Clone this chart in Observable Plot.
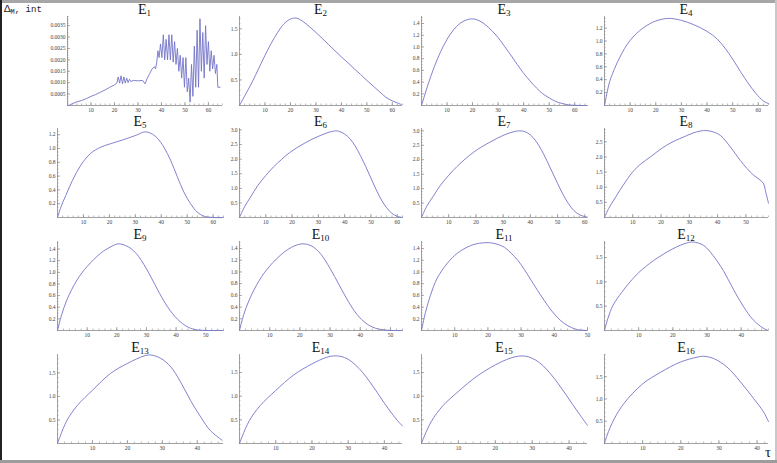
<!DOCTYPE html>
<html><head><meta charset="utf-8">
<script src="https://cdn.jsdelivr.net/npm/d3@7"></script>
<script src="https://cdn.jsdelivr.net/npm/@observablehq/plot@0.6"></script>
<style>
body{margin:0;background:#fff}
#root{position:relative;width:777px;height:463px;overflow:hidden;background:#fff}
#root svg{position:absolute;overflow:visible;background:transparent}
.title{position:absolute;font-family:"Liberation Serif",serif;font-size:14px;line-height:1;transform:translate(-50%,-50%);color:#111;white-space:nowrap}
.title sub{font-size:9px;vertical-align:-2px;line-height:0}
.ylab{position:absolute;left:4px;top:3px;font-family:"Liberation Mono",monospace;font-size:9px;color:#222;white-space:nowrap}
.ylab .d{font-size:11px}
.ylab sub{font-size:7px;vertical-align:-2px}
.tau{position:absolute;left:765px;top:444px;font-family:"Liberation Serif",serif;font-size:15px;color:#222}
.band{position:absolute}
</style></head><body><div id="root"></div>
<script>
// ---- data (tau, Delta_M,int) ----
const e1 = [[0,0],[1,0.00002],[2,0.00008],[4,0.00016],[6,0.00022],[8,0.0003],[10,0.0004],[12,0.00048],[14,0.00058],[16,0.00068],[18,0.0008],[20,0.0009],[21,0.00098],[21.6,0.00125],[22.2,0.00098],[22.8,0.0013],[23.4,0.00095],[24,0.00125],[24.6,0.00098],[25.2,0.0012],[25.8,0.001],[26.4,0.00115],[27,0.00105],[28,0.0011],[30,0.00108],[32,0.0011],[33,0.00095],[34,0.0012],[35,0.0014],[36,0.0016],[37,0.0017],[37.5,0.0016],[38,0.0019],[38.5,0.0024],[39,0.0021],[39.6,0.0027],[40.2,0.0021],[40.8,0.0031],[41.4,0.002],[42,0.0029],[42.6,0.002],[43.2,0.0031],[43.8,0.002],[44.4,0.0031],[45,0.0019],[45.6,0.0028],[46.2,0.0018],[46.8,0.0025],[47.4,0.0015],[48,0.0022],[48.6,0.0012],[49.2,0.0021],[49.8,0.0008],[50.4,0.0021],[51,0.0006],[51.6,0.0012],[52.2,0.00015],[52.8,0.0018],[53.4,0.0004],[54,0.0026],[54.6,0.0008],[55.2,0.0033],[55.8,0.0008],[56.4,0.0038],[57,0.0015],[57.6,0.0032],[58.2,0.0012],[58.8,0.0035],[59.4,0.0018],[60,0.0028],[60.6,0.0015],[61.2,0.0024],[61.8,0.0016],[62.4,0.0022],[63,0.0014],[63.6,0.0018],[64,0.0008],[65,0.0008]];
const e2 = [[0,0],[2.5,0.23],[5,0.46],[7.5,0.72],[10,0.98],[12.5,1.22],[15,1.43],[17.5,1.6],[20,1.69],[21.5,1.71],[23,1.7],[25,1.64],[27.5,1.54],[30,1.43],[32.5,1.31],[35,1.19],[37.5,1.07],[40,0.95],[42.5,0.84],[45,0.72],[47.5,0.61],[50,0.49],[52.5,0.38],[55,0.27],[57.5,0.16],[60,0.09],[62,0.05],[63.5,0.02]];
const e3 = [[0,0],[2.5,0.35],[5,0.66],[7.5,0.92],[10,1.13],[12.5,1.29],[15,1.4],[17.5,1.46],[20,1.48],[22.5,1.45],[25,1.38],[27.5,1.28],[30,1.16],[32.5,1.01],[35,0.86],[37.5,0.7],[40,0.55],[42.5,0.42],[45,0.3],[47.5,0.2],[50,0.13],[52.5,0.07],[55,0.035],[57.5,0.012],[60,0.003],[62.5,0],[65,0]];
const e4 = [[0,0],[1,0.2],[2,0.37],[3.2,0.5],[6,0.75],[10,1.01],[15,1.2],[20,1.31],[25,1.35],[30,1.32],[35,1.25],[40,1.15],[44,1.03],[47,0.89],[50,0.72],[53,0.53],[56,0.35],[59,0.19],[62,0.07],[64,0.03]];
const e5 = [[0,0],[1.3,0.15],[3.2,0.32],[5.8,0.54],[9,0.76],[12.8,0.93],[16.7,1.02],[20.5,1.07],[25.6,1.13],[30.8,1.2],[33.5,1.24],[36,1.22],[38.5,1.15],[41,1.02],[43.6,0.83],[46.2,0.59],[48.7,0.37],[51.3,0.2],[53.8,0.08],[56.4,0.02],[60,0],[64,0]];
const e6 = [[0,0],[2,0.38],[4.2,0.7],[7,1.1],[10,1.44],[13,1.74],[16,1.99],[19,2.22],[22,2.4],[25,2.56],[28,2.7],[31,2.82],[34,2.92],[36.5,2.97],[38,2.95],[40,2.86],[42,2.7],[44,2.45],[46,2.12],[48,1.75],[50,1.35],[52,0.95],[54,0.6],[56,0.33],[58,0.14],[60,0.04],[62,0]];
const e7 = [[0,0],[2,0.4],[4.2,0.72],[7,1.12],[10,1.46],[13,1.76],[16,2.02],[19,2.25],[22,2.44],[25,2.6],[28,2.75],[31,2.88],[34,2.97],[36,3.0],[38,2.97],[40,2.86],[42,2.65],[44,2.35],[46,1.98],[48,1.58],[50,1.18],[52,0.8],[54,0.48],[56,0.24],[58,0.1],[60,0.03],[61,0.01]];
const e8 = [[0,0],[1.5,0.3],[3.3,0.58],[6.5,1.05],[10,1.51],[13,1.78],[16.2,2.0],[19,2.2],[22,2.39],[25,2.54],[28,2.66],[31,2.78],[34,2.86],[36,2.87],[38,2.84],[41,2.71],[44.5,2.33],[48,1.89],[50.4,1.62],[52.7,1.4],[55,1.24],[56.2,1.13],[57,0.85],[58,0.47]];
const e9 = [[0,0],[1.4,0.27],[3.2,0.53],[6.6,0.87],[10,1.1],[14.6,1.33],[18,1.44],[20.5,1.49],[23,1.46],[25,1.4],[27.4,1.27],[30.9,0.98],[34.4,0.64],[37.9,0.35],[41.4,0.15],[44.8,0.04],[48,0.005],[52,0],[56,0]];
const e10 = [[0,0],[1.4,0.27],[3.2,0.52],[6.6,0.86],[10,1.1],[14.6,1.33],[18,1.44],[21,1.48],[24,1.44],[27,1.3],[30,1.06],[33,0.78],[36,0.5],[39,0.27],[42,0.12],[45,0.04],[48,0.01],[51,0],[54,0]];
const e11 = [[0,0],[1.2,0.31],[2.7,0.6],[4.7,0.89],[7.8,1.15],[10.8,1.32],[14.8,1.45],[17.5,1.49],[20.4,1.5],[23,1.47],[25,1.42],[27,1.32],[29,1.2],[31,1.04],[33,0.86],[35,0.68],[37,0.51],[39,0.35],[41,0.22],[43,0.12],[45.2,0.05],[47,0.015],[50,0]];
const e12 = [[0,0],[1,0.25],[2.5,0.52],[5,0.78],[7.5,1.0],[10,1.19],[14.4,1.44],[20,1.68],[24.1,1.8],[26,1.82],[29,1.75],[31.8,1.54],[34.8,1.23],[37.7,0.85],[40.6,0.5],[43.5,0.22],[46.4,0.05],[47.9,0]];
const e13 = [[0,0],[0.8,0.16],[2.7,0.49],[5.7,0.81],[10,1.13],[15.2,1.49],[20,1.7],[24.8,1.86],[26.7,1.88],[29.5,1.81],[32.4,1.63],[35.2,1.31],[38.1,0.91],[41,0.56],[43.8,0.27],[47.1,0.07]];
const e14 = [[0,0],[0.8,0.16],[2.7,0.48],[5.7,0.8],[10,1.12],[15,1.45],[20,1.68],[24,1.82],[26,1.85],[28,1.84],[30,1.78],[32,1.66],[34,1.5],[36,1.3],[38,1.08],[40,0.85],[42,0.64],[44,0.45],[45,0.37]];
const e15 = [[0,0],[0.8,0.16],[2.7,0.47],[5.7,0.79],[10,1.1],[15,1.42],[20,1.66],[24,1.8],[27,1.85],[29,1.83],[31,1.76],[33,1.64],[35,1.47],[37,1.27],[39,1.05],[41,0.82],[43,0.6],[45,0.38]];
const e16 = [[0,0],[0.7,0.19],[2.4,0.53],[5.1,0.9],[10,1.34],[14.7,1.6],[19.9,1.83],[24.3,1.94],[26,1.96],[28.6,1.91],[32.1,1.72],[35.6,1.39],[39.1,1.01],[41.7,0.71],[43,0.49]];

// ---- tick labels ----
const xt60 = [10,20,30,40,50,60];
const xt50 = [10,20,30,40,50];
const xt40 = [10,20,30,40];
const ytE1 = [0.0005,0.001,0.0015,0.002,0.0025,0.003,0.0035];
const yt05 = [0.5,1.0,1.5];
const yt02_14 = [0.2,0.4,0.6,0.8,1.0,1.2,1.4];
const yt02_12 = [0.2,0.4,0.6,0.8,1.0,1.2];
const yt05_30 = [0.5,1.0,1.5,2.0,2.5,3.0];
const yt05_25 = [0.5,1.0,1.5,2.0,2.5];

const panels = [
  {n:1, d:e1, xmax:66, ymax:0.0039, xt:xt60, yt:ytE1, ym:0.0001, fmt:".4f", c:0, r:0, left:67, w:155, lin:true},
  {n:2, d:e2, xmax:64, ymax:1.74, xt:xt60, yt:yt05, ym:0.1, fmt:".1f", c:1, r:0},
  {n:3, d:e3, xmax:65, ymax:1.52, xt:xt60, yt:yt02_14, ym:0.05, fmt:".1f", c:2, r:0},
  {n:4, d:e4, xmax:64, ymax:1.38, xt:xt60, yt:yt02_12, ym:0.05, fmt:".1f", c:3, r:0},
  {n:5, d:e5, xmax:64, ymax:1.29, xt:xt60, yt:yt02_12, ym:0.05, fmt:".1f", c:0, r:1},
  {n:6, d:e6, xmax:62, ymax:3.05, xt:xt60, yt:yt05_30, ym:0.1, fmt:".1f", c:1, r:1},
  {n:7, d:e7, xmax:61, ymax:3.08, xt:xt60, yt:yt05_30, ym:0.1, fmt:".1f", c:2, r:1},
  {n:8, d:e8, xmax:58, ymax:2.94, xt:xt50, yt:yt05_25, ym:0.1, fmt:".1f", c:3, r:1},
  {n:9, d:e9, xmax:56, ymax:1.53, xt:xt50, yt:yt02_14, ym:0.05, fmt:".1f", c:0, r:2},
  {n:10, d:e10, xmax:54, ymax:1.52, xt:xt50, yt:yt02_14, ym:0.05, fmt:".1f", c:1, r:2},
  {n:11, d:e11, xmax:50, ymax:1.52, xt:xt50, yt:yt02_14, ym:0.05, fmt:".1f", c:2, r:2},
  {n:12, d:e12, xmax:48, ymax:1.83, xt:xt40, yt:yt05, ym:0.1, fmt:".1f", c:3, r:2},
  {n:13, d:e13, xmax:47.5, ymax:1.89, xt:xt40, yt:yt05, ym:0.1, fmt:".1f", c:0, r:3},
  {n:14, d:e14, xmax:45, ymax:1.88, xt:xt40, yt:yt05, ym:0.1, fmt:".1f", c:1, r:3},
  {n:15, d:e15, xmax:45, ymax:1.88, xt:xt40, yt:yt05, ym:0.1, fmt:".1f", c:2, r:3},
  {n:16, d:e16, xmax:43, ymax:2.0, xt:xt40, yt:yt05, ym:0.1, fmt:".1f", c:3, r:3}
];

const colLeft = [57, 239, 421, 604], colW = [166, 163, 166, 164];
const rowAxis = [105, 217, 330, 443], plotH = 89;
const lineColor = "#7474c8", axisColor = "#8a8a8a", labColor = "#444";
const root = document.getElementById("root");

function band(l, t, w, h, c) {
  const b = document.createElement("div");
  b.className = "band";
  Object.assign(b.style, {left: l + "px", top: t + "px", width: w + "px", height: h + "px", background: c});
  root.appendChild(b);
}

for (const p of panels) {
  const L = p.left ?? colLeft[p.c], W = p.w ?? colW[p.c];
  const bottom = rowAxis[p.r], top = bottom - plotH;
  const ml = 40, mr = 6, mt = 4, mb = 12;
  const xMinor = d3.range(2, p.xmax + 0.001, 2);
  const yMinor = d3.range(p.ym, p.ymax + 1e-9, p.ym);
  const chart = Plot.plot({
    width: W + ml + mr, height: plotH + mt + mb,
    marginLeft: ml, marginRight: mr, marginTop: mt, marginBottom: mb,
    x: {domain: [0, p.xmax]},
    y: {domain: [0, p.ymax]},
    style: {background: "transparent", fontFamily: "Liberation Serif, serif", fontSize: "5.5px", overflow: "visible"},
    marks: [
      Plot.ruleY([0], {stroke: axisColor, strokeWidth: 0.8}),
      Plot.ruleX([0], {stroke: axisColor, strokeWidth: 0.8}),
      Plot.ruleX(xMinor, {stroke: axisColor, strokeWidth: 0.6, insetTop: plotH - 1.5}),
      Plot.ruleX(p.xt, {stroke: axisColor, strokeWidth: 0.7, insetTop: plotH - 3}),
      Plot.ruleY(yMinor, {stroke: axisColor, strokeWidth: 0.6, insetRight: W - 1.5}),
      Plot.ruleY(p.yt, {stroke: axisColor, strokeWidth: 0.7, insetRight: W - 3}),
      Plot.axisX(p.xt, {tickSize: 0, tickPadding: 3, label: null, fill: labColor, fontSize: 5.5}),
      Plot.axisY(p.yt, {tickSize: 0, tickPadding: 2, label: null, fill: labColor, fontSize: 5.5, tickFormat: d3.format(p.fmt)}),
      Plot.line(p.d, {x: d => d[0], y: d => d[1], stroke: lineColor, strokeWidth: 0.9, curve: p.lin ? "linear" : "catmull-rom"})
    ]
  });
  chart.style.left = (L - ml) + "px";
  chart.style.top = (top - mt) + "px";
  root.appendChild(chart);
  const t = document.createElement("div");
  t.className = "title";
  t.innerHTML = "E<sub>" + p.n + "</sub>";
  t.style.left = (L + W / 2) + "px";
  t.style.top = (top - 6) + "px";
  root.appendChild(t);
}

const yl = document.createElement("div");
yl.className = "ylab";
yl.innerHTML = '<span class="d">Δ</span><sub>M</sub>, int';
root.appendChild(yl);
const tau = document.createElement("div");
tau.className = "tau";
tau.textContent = "τ";
root.appendChild(tau);

band(0, 0, 777, 3, "#a6a6a6");
band(0, 460, 777, 3, "#9c9c9c");
band(0, 0, 2, 460, "#222");
band(775, 0, 2, 460, "#c8c8c8");
</script>
</body></html>
